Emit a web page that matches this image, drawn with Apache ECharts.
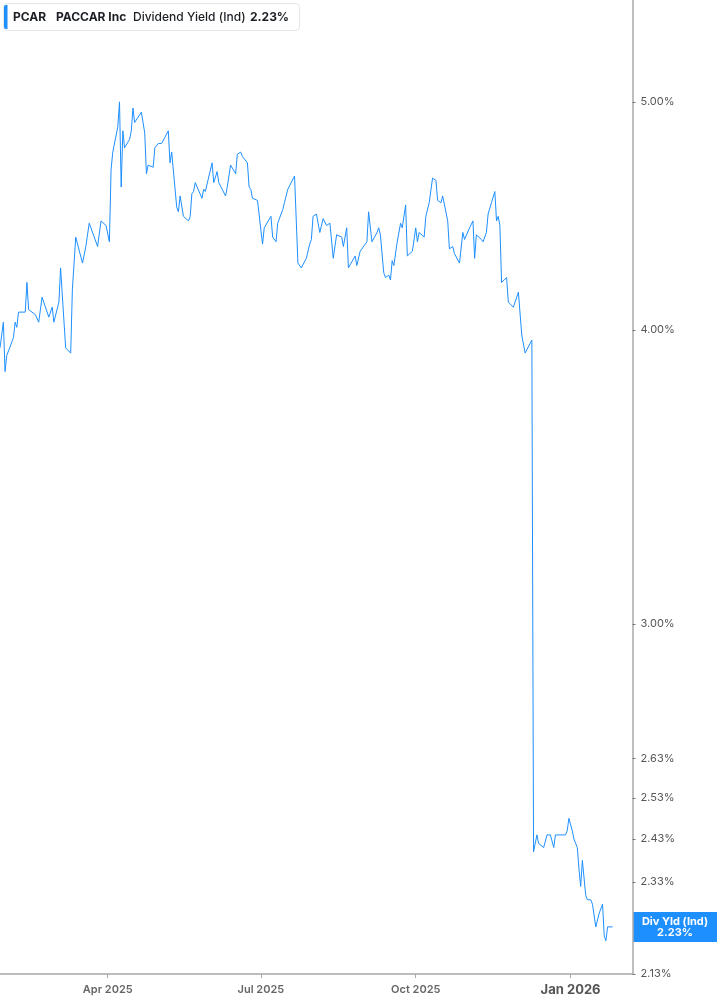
<!DOCTYPE html>
<html>
<head>
<meta charset="utf-8">
<title>PCAR Dividend Yield</title>
<script src="https://cdn.jsdelivr.net/npm/echarts@6/dist/echarts.min.js"></script>
<style>
  html, body { margin: 0; padding: 0; background: #fff; }
  #chart { width: 717px; height: 1005px; }
</style>
</head>
<body>
<div id="chart"></div>
<script>
var ticker = 'PCAR';
var company = 'PACCAR Inc';
var metric = 'Dividend Yield (Ind)';
var badgeName = 'Div Yld (Ind)';

var dates = [
  '2025-01-27','2025-01-29','2025-01-30','2025-01-31','2025-02-04','2025-02-05','2025-02-06','2025-02-07',
  '2025-02-11','2025-02-12','2025-02-13','2025-02-17','2025-02-19','2025-02-21','2025-02-25','2025-02-27',
  '2025-02-28','2025-03-03','2025-03-04','2025-03-07','2025-03-10','2025-03-11','2025-03-13','2025-03-17',
  '2025-03-19','2025-03-21','2025-03-26','2025-03-28','2025-03-31','2025-04-02','2025-04-03','2025-04-04',
  '2025-04-07','2025-04-08','2025-04-09','2025-04-10','2025-04-11','2025-04-14','2025-04-15','2025-04-16',
  '2025-04-17','2025-04-21','2025-04-23','2025-04-24','2025-04-25','2025-04-28','2025-04-29','2025-05-01',
  '2025-05-03','2025-05-05','2025-05-07','2025-05-08','2025-05-09','2025-05-12','2025-05-13','2025-05-14',
  '2025-05-16','2025-05-19','2025-05-20','2025-05-21','2025-05-22','2025-05-23','2025-05-27','2025-05-28',
  '2025-05-29','2025-06-02','2025-06-03','2025-06-05','2025-06-06','2025-06-10','2025-06-11','2025-06-13',
  '2025-06-16','2025-06-17','2025-06-19','2025-06-20','2025-06-23','2025-06-24','2025-06-25','2025-06-26',
  '2025-06-29','2025-07-01','2025-07-02','2025-07-03','2025-07-07','2025-07-08','2025-07-10','2025-07-11',
  '2025-07-14','2025-07-15','2025-07-16','2025-07-17','2025-07-21','2025-07-23','2025-07-25','2025-07-28',
  '2025-07-30','2025-07-31','2025-08-01','2025-08-03','2025-08-05','2025-08-07','2025-08-09','2025-08-11',
  '2025-08-13','2025-08-15','2025-08-18','2025-08-19','2025-08-21','2025-08-22','2025-08-26','2025-08-27',
  '2025-08-29','2025-09-02','2025-09-03','2025-09-05','2025-09-08','2025-09-09','2025-09-10','2025-09-12',
  '2025-09-13','2025-09-15','2025-09-16','2025-09-17','2025-09-18','2025-09-20','2025-09-22','2025-09-23',
  '2025-09-25','2025-09-26','2025-09-29','2025-10-01','2025-10-02','2025-10-03','2025-10-06','2025-10-07',
  '2025-10-09','2025-10-11','2025-10-13','2025-10-14','2025-10-16','2025-10-17','2025-10-20','2025-10-21',
  '2025-10-23','2025-10-24','2025-10-27','2025-10-29','2025-10-30','2025-11-02','2025-11-04','2025-11-05',
  '2025-11-06','2025-11-09','2025-11-10','2025-11-12','2025-11-13','2025-11-15','2025-11-17','2025-11-18',
  '2025-11-19','2025-11-20','2025-11-21','2025-11-24','2025-11-25','2025-11-28','2025-12-01','2025-12-03',
  '2025-12-04','2025-12-05','2025-12-09','2025-12-10','2025-12-12','2025-12-13','2025-12-16','2025-12-18',
  '2025-12-20','2025-12-22','2025-12-23','2025-12-25','2025-12-27','2025-12-29','2025-12-30','2025-12-31',
  '2026-01-02','2026-01-03','2026-01-05','2026-01-06','2026-01-07','2026-01-08','2026-01-10','2026-01-11',
  '2026-01-13','2026-01-14','2026-01-15','2026-01-16','2026-01-18','2026-01-20','2026-01-21','2026-01-22',
  '2026-01-23','2026-01-26'
];

var yields = [
  3.93, 4.03, 3.84, 3.90, 3.97, 4.03, 4.01, 4.07,
  4.07, 4.19, 4.08, 4.06, 4.03, 4.13, 4.05, 4.09,
  4.03, 4.11, 4.25, 3.93, 3.91, 4.16, 4.38, 4.27,
  4.34, 4.44, 4.34, 4.45, 4.43, 4.36, 4.68, 4.76,
  4.88, 5.00, 4.60, 4.86, 4.78, 4.82, 4.86, 4.97,
  4.90, 4.95, 4.85, 4.66, 4.70, 4.69, 4.78, 4.80,
  4.80, 4.83, 4.86, 4.71, 4.76, 4.51, 4.49, 4.56,
  4.47, 4.45, 4.47, 4.57, 4.58, 4.62, 4.55, 4.59,
  4.58, 4.71, 4.62, 4.67, 4.62, 4.56, 4.60, 4.70,
  4.66, 4.75, 4.76, 4.74, 4.71, 4.60, 4.59, 4.55,
  4.54, 4.41, 4.35, 4.42, 4.47, 4.38, 4.36, 4.44,
  4.50, 4.53, 4.53, 4.59, 4.65, 4.27, 4.25, 4.29,
  4.35, 4.37, 4.47, 4.48, 4.40, 4.46, 4.43, 4.44,
  4.29, 4.39, 4.38, 4.34, 4.42, 4.25, 4.30, 4.26,
  4.32, 4.36, 4.49, 4.36, 4.40, 4.42, 4.39, 4.23,
  4.21, 4.22, 4.20, 4.28, 4.26, 4.36, 4.44, 4.42,
  4.52, 4.30, 4.32, 4.42, 4.36, 4.40, 4.38, 4.47,
  4.53, 4.64, 4.63, 4.54, 4.53, 4.56, 4.45, 4.33,
  4.34, 4.31, 4.27, 4.40, 4.37, 4.42, 4.45, 4.29,
  4.39, 4.37, 4.36, 4.40, 4.48, 4.53, 4.58, 4.45,
  4.47, 4.43, 4.19, 4.21, 4.11, 4.09, 4.15, 3.98,
  3.98, 3.91, 3.96, 2.40, 2.44, 2.42, 2.41, 2.44,
  2.44, 2.41, 2.44, 2.44, 2.44, 2.44, 2.45, 2.48,
  2.45, 2.43, 2.41, 2.36, 2.32, 2.38, 2.30, 2.29,
  2.29, 2.28, 2.28, 2.23, 2.26, 2.28, 2.21, 2.20,
  2.23, 2.23
];

var yTicks = [2.13, 2.33, 2.43, 2.53, 2.63, 3, 4, 5];
var xTicks = ['2025-04-01', '2025-07-01', '2025-10-01', '2026-01-01'];
var xRange = ['2025-01-27', '2026-02-06'];
var monthNames = ['Jan','Feb','Mar','Apr','May','Jun','Jul','Aug','Sep','Oct','Nov','Dec'];

var lineColor = '#1e8fff';
var fontFam = 'Inter, "Noto Sans", sans-serif';

function toTime(s) {
    var p = s.split('-');
    return new Date(+p[0], +p[1] - 1, +p[2]).getTime();
}

var seriesData = [];
for (var i = 0; i < dates.length; i++) {
    seriesData.push([toTime(dates[i]), yields[i]]);
}
var lastYield = yields[yields.length - 1].toFixed(2) + '%';
var xTickTimes = xTicks.map(toTime);

var chart = echarts.init(document.getElementById('chart'));

var option = {
    animation: false,
    backgroundColor: '#fff',
    grid: { left: 0, right: 84.5, top: 0, bottom: 31 },
    xAxis: {
        type: 'value',
        min: toTime(xRange[0]),
        max: toTime(xRange[1]) + 19 * 3600 * 1000,
        splitLine: { show: false },
        axisLine: { show: true, lineStyle: { color: '#a8a8a8', width: 1.5 } },
        axisTick: { show: true, customValues: xTickTimes, length: 4, lineStyle: { color: '#a8a8a8' } },
        axisLabel: {
            customValues: xTickTimes,
            margin: 10,
            color: '#666',
            fontFamily: fontFam,
            fontSize: 11,
            fontWeight: 600,
            formatter: function (val) {
                var d = new Date(val);
                var s = monthNames[d.getMonth()] + ' ' + d.getFullYear();
                return d.getMonth() === 0 ? '{big|' + s + '}' : s;
            },
            rich: {
                big: { fontSize: 13, fontWeight: 700, color: '#555', fontFamily: fontFam }
            }
        }
    },
    yAxis: {
        type: 'log',
        logBase: 10,
        position: 'right',
        min: 2.1295,
        max: 5.524,
        splitLine: { show: false },
        axisLine: { show: true, lineStyle: { color: '#a8a8a8', width: 1.5 } },
        axisTick: { show: true, customValues: yTicks, length: 3, lineStyle: { color: '#777' } },
        axisLabel: {
            customValues: yTicks,
            margin: 8,
            color: '#555',
            fontFamily: fontFam,
            fontSize: 11,
            formatter: function (v) { return v.toFixed(2) + '%'; }
        }
    },
    series: [{
        type: 'line',
        data: seriesData,
        showSymbol: false,
        smooth: false,
        lineStyle: { color: lineColor, width: 1 },
        itemStyle: { color: lineColor }
    }],
    graphic: [
        { id: 'lgBox', type: 'rect', x: 3.5, y: 3.5, shape: { width: 296, height: 27, r: 4 },
          style: { fill: '#fff', stroke: '#e4e6ea', lineWidth: 1 } },
        { id: 'lgBar', type: 'rect', x: 4, y: 5, shape: { width: 3.5, height: 24, r: [2, 0, 0, 2] },
          style: { fill: lineColor } },
        { id: 'lgT1', type: 'text', x: 13, y: 17,
          style: { text: ticker, font: '700 12px ' + fontFam, fill: '#1b1f24', verticalAlign: 'middle' } },
        { id: 'lgT2', type: 'text', x: 56, y: 17,
          style: { text: company, font: '700 12px ' + fontFam, fill: '#1b1f24', verticalAlign: 'middle' } },
        { id: 'lgT3', type: 'text', x: 133, y: 17,
          style: { text: metric, font: '500 12px ' + fontFam, fill: '#1b1f24', verticalAlign: 'middle' } },
        { id: 'lgT4', type: 'text', x: 250, y: 17,
          style: { text: lastYield, font: '700 12px ' + fontFam, fill: '#1b1f24', verticalAlign: 'middle' } }
    ]
};

chart.setOption(option);

// value badge on the right axis, placed at the last value through the axis scale
var py = chart.convertToPixel({ yAxisIndex: 0 }, yields[yields.length - 1]);
chart.setOption({
    graphic: [
        { id: 'bdBox', type: 'rect', x: 633, y: py - 15, shape: { width: 84, height: 30 },
          style: { fill: lineColor } },
        { id: 'bdT1', type: 'text', x: 675, y: py - 5,
          style: { text: badgeName, font: '700 11px ' + fontFam, fill: '#fff', align: 'center', verticalAlign: 'middle' } },
        { id: 'bdT2', type: 'text', x: 675, y: py + 6,
          style: { text: lastYield, font: '700 11px ' + fontFam, fill: '#fff', align: 'center', verticalAlign: 'middle' } }
    ]
});
</script>
</body>
</html>
